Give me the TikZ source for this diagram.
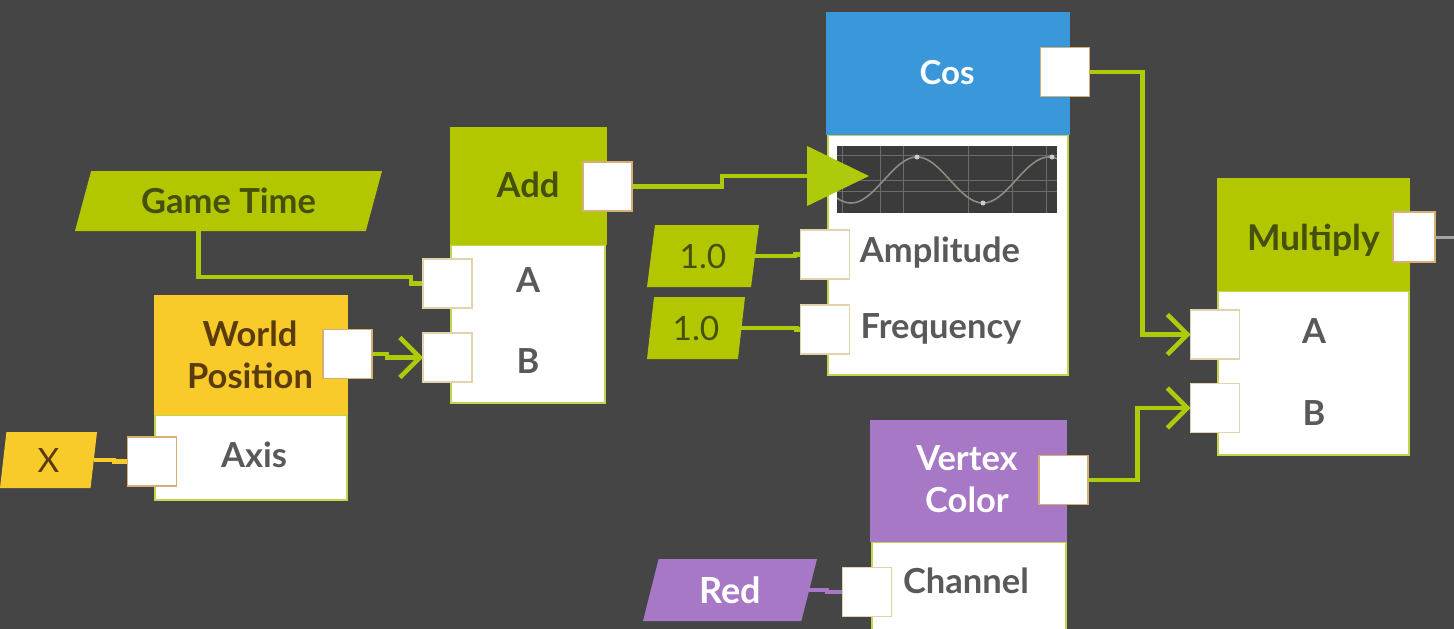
\documentclass[tikz,border=0pt]{standalone}
\usepackage{fontspec}
\setmainfont{Lato}
\usetikzlibrary{arrows.meta,shapes.geometric}

\definecolor{bg}{HTML}{454545}
\definecolor{hgreen}{HTML}{B3C700}
\definecolor{wireg}{HTML}{AECA0A}
\definecolor{hblue}{HTML}{3A97DA}
\definecolor{hyellow}{HTML}{F8CB2B}
\definecolor{hpurple}{HTML}{A678C6}
\definecolor{porttan}{HTML}{D5AE78}
\definecolor{portlight}{HTML}{E3D2AE}
\definecolor{bodyedge}{HTML}{C4D44E}
\definecolor{greentext}{HTML}{44500C}
\definecolor{browntext}{HTML}{5A3B0A}
\definecolor{labgray}{HTML}{595959}
\definecolor{graphbg}{HTML}{3B3B3B}
\definecolor{gridline}{HTML}{6C6C6C}
\definecolor{curve}{HTML}{8C8C80}
\definecolor{outgray}{HTML}{A4A4A4}

\newcommand\titlefont{\fontsize{34.5}{42}\selectfont\bfseries}
\newcommand\cosfont{\fontsize{33}{42}\selectfont\bfseries}
\newcommand\labelfont{\fontsize{34.5}{40}\selectfont\bfseries}
\newcommand\constfont{\fontsize{33.5}{38}\selectfont}
\newcommand\constbold{\fontsize{34.5}{38}\selectfont\bfseries}

\pgfdeclarelayer{top}
\pgfsetlayers{main,top}

\begin{document}
\begin{tikzpicture}[x=1pt,y=-1pt,
  hdr/.style={anchor=north west, inner sep=0pt, outer sep=0pt},
  body/.style={anchor=north west, fill=white, draw=bodyedge, line width=1.5pt, inner sep=0pt, outer sep=0pt},
  port/.style={fill=white, draw=porttan, line width=1.8pt, minimum width=49pt, minimum height=49pt, inner sep=0pt, outer sep=0pt},
  inport/.style={port, draw=portlight},
  title/.style={anchor=base, align=center, font=\titlefont, inner sep=0pt},
  label/.style={anchor=base, font=\labelfont, text=labgray, inner sep=0pt},
  const/.style={trapezium, trapezium stretches body, inner sep=0pt, outer sep=0pt},
  wire/.style={draw=wireg, line width=4.5pt},
  barb/.style={-{Straight Barb[length=20pt,width=40pt]}},
]
% canvas
\fill[bg] (0,0) rectangle (1454,629);
\useasboundingbox (0,0) rectangle (1454,629);

% ---------- Add ----------
\node[body, minimum width=154pt, minimum height=158pt] (addbody) at (451,245) {};
\node[hdr, fill=hgreen, minimum width=157pt, minimum height=118pt] (addhdr) at (450,127) {};
\node[title, text=greentext] (addt) at (528,197) {Add};
\node[label] (addAl) at (528,292) {A};
\node[label] (addBl) at (528,373) {B};

% ---------- World Position (base = last line) ----------
\node[body, minimum width=192pt, minimum height=85pt] (wpbody) at (155,415) {};
\node[hdr, fill=hyellow, minimum width=194pt, minimum height=120pt] (wphdr) at (154,295) {};
\node[title, text=browntext] (wpt) at (250,388) {World\\Position};
\node[label] (axisl) at (254,467) {Axis};

% ---------- Cos ----------
\node[body, minimum width=240pt, minimum height=240pt] (cosbody) at (828,135) {};
\node[hdr, fill=hblue, minimum width=244pt, minimum height=123pt] (coshdr) at (826,12) {};
\node[anchor=base, font=\cosfont, text=white, inner sep=0pt] (cost) at (947,84) {Cos};
\node[anchor=north west, fill=graphbg, minimum width=220pt, minimum height=67pt, inner sep=0pt, outer sep=0pt] (graph) at (837,146) {};
\begin{scope}
  \clip (837,146) rectangle (1057,213);
  \foreach \gy in {155,180,191} \draw[gridline, line width=1pt] (837,\gy) -- (1057,\gy);
  \foreach \gx in {842,880,903,968,1012,1046} \draw[gridline, line width=1pt] (\gx,146) -- (\gx,213);
  \draw[curve, line width=1.6pt, domain=837:1057, samples=80, smooth]
    plot (\x, {180 - 23*cos(2.72727*(\x-917))});
  \fill[gray!40] (917,157) circle (2.5pt) (983,203) circle (2.5pt) (1052,157) circle (2.5pt);
\end{scope}
\node[label] (ampl) at (940,262) {Amplitude};
\node[label] (freql) at (941,338) {Frequency};

% ---------- Multiply ----------
\node[body, minimum width=191pt, minimum height=164pt] (mulbody) at (1218,291) {};
\node[hdr, fill=hgreen, minimum width=193pt, minimum height=113pt] (mulhdr) at (1217,178) {};
\node[title, text=greentext, font=\fontsize{35.5}{42}\selectfont\bfseries] (mult) at (1314,250) {Multiply};
\node[label] (mulAl) at (1314,343) {A};
\node[label] (mulBl) at (1314,425) {B};

% ---------- Vertex Color (base = last line) ----------
\node[body, minimum width=194pt, minimum height=100pt] (vcbody) at (872,542) {};
\node[hdr, fill=hpurple, minimum width=197pt, minimum height=122pt] (vchdr) at (870,420) {};
\node[title, text=white] (vct) at (967,512) {Vertex\\Color};
\node[label] (chanl) at (966,593) {Channel};

% ---------- constants ----------
\node[const, fill=hgreen, trapezium left angle=58, trapezium right angle=122,
      minimum width=307pt, minimum height=60pt, text=greentext, font=\constbold] (gt) at (228.5,201) {Game Time};
\node[const, fill=hyellow, trapezium left angle=75, trapezium right angle=105,
      minimum width=97pt, minimum height=56pt, text=browntext, font=\constfont] (xc) at (48.5,460) {X};
\node[const, fill=hgreen, trapezium left angle=72, trapezium right angle=108,
      minimum width=112pt, minimum height=62pt, text=greentext, font=\constfont] (one1) at (703,256) {1.0};
\node[const, fill=hgreen, trapezium left angle=74, trapezium right angle=106,
      minimum width=98pt, minimum height=62pt, text=greentext, font=\constfont] (one2) at (696,328) {1.0};
\node[const, fill=hpurple, trapezium left angle=60, trapezium right angle=120,
      minimum width=174pt, minimum height=62pt, text=white, font=\fontsize{36}{38}\selectfont\bfseries] (redc) at (730,590) {Red};

% ---------- ports (kept above the wires) ----------
\begin{pgfonlayer}{top}
\node[port] (addout) at (607.5,186.5) {};
\node[inport] (addA) at (447.5,283.5) {};
\node[inport] (addB) at (447.5,357.5) {};
\node[port] (wpout) at (347.5,354) {};
\node[port] (wpaxis) at (152,461.5) {};
\node[port] (cosout) at (1065,72) {};
\node[inport] (amp) at (825,254.5) {};
\node[inport] (freq) at (825,329.5) {};
\node[port, minimum width=42pt, minimum height=50pt] (mulout) at (1414,237) {};
\node[inport] (mulA) at (1215,334.5) {};
\node[inport] (mulB) at (1215,408) {};
\node[port] (vcout) at (1063.5,480) {};
\node[inport] (chan) at (867,592) {};
\end{pgfonlayer}

\coordinate (costip) at (869,176);
\coordinate (mulnext) at (1454,237);

% ---------- connectors ----------
\draw[wire] ([xshift=-30pt]gt.south) -- ++(0,46) -| ([xshift=-12pt]addA.west) -- (addA.west);
\draw[wire, barb] (wpout.east) -- ++(15,0) |- (addB.west);
\draw[wire, draw=hyellow] (xc.east) -- ++(20,0) |- (wpaxis.west);
\draw[wire, -{Triangle[length=62pt,width=59pt]}] (addout.east) -- ++(90,0) |- (costip);
\draw[wire] (one1.east) -- ++(40,0) |- (amp.west);
\draw[wire] (one2.east) -- ++(55,0) |- (freq.west);
\draw[wire, draw=hpurple] (redc.east) -- ++(18,0) |- (chan.west);
\draw[wire, barb] (cosout.east) -| ([xshift=-48pt]mulA.west) -- (mulA.west);
\draw[wire, barb] (vcout.east) -| ([xshift=-53pt]mulB.west) -- (mulB.west);
\draw[outgray, line width=3pt] (mulout.east) -- (mulnext);
\end{tikzpicture}
\end{document}
